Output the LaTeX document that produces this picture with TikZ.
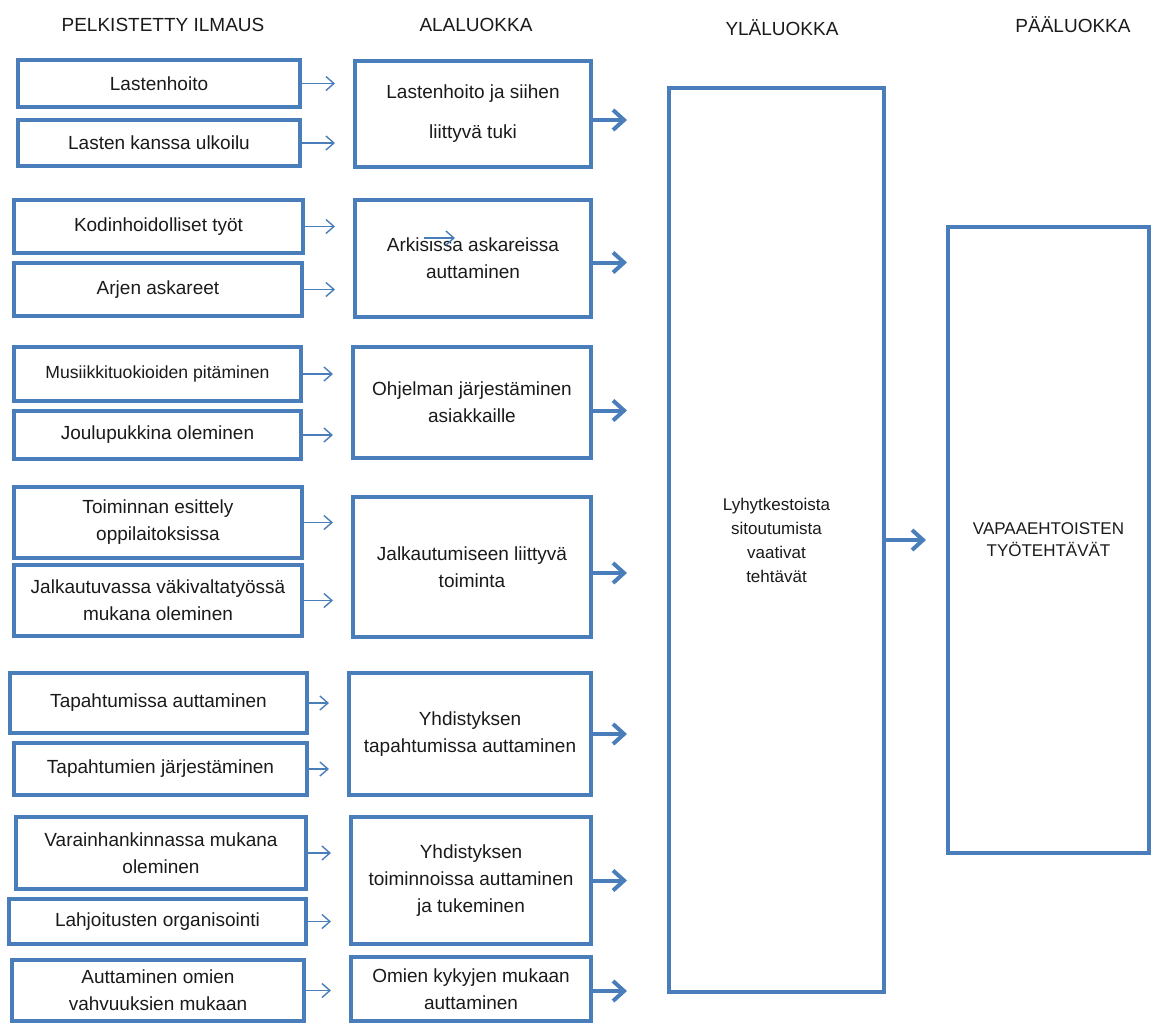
\documentclass[tikz,border=0pt]{standalone}
\usepackage{fontspec}
\setmainfont{Liberation Sans}
\usetikzlibrary{arrows.meta}
\definecolor{edgeblue}{HTML}{4A7EBB}
\definecolor{inkblack}{HTML}{1A1A1A}

\begin{document}
\begin{tikzpicture}[x=0.5pt,y=-0.5pt,
  % a box given by its two opposite corners, in picture units
  span/.style n args={4}{at={({(#1+#3)/2},{(#2+#4)/2})},
    minimum width={(#3-#1)*0.5pt}, minimum height={(#4-#2)*0.5pt}},
  box/.style={draw=edgeblue, line width=2pt, inner sep=0pt, align=center,
    font=\fontsize{9.5}{13.5}\selectfont, text=inkblack},
  bigbox/.style={box, font=\fontsize{8.5}{12}\selectfont},
  colhead/.style={font=\fontsize{9.5}{12}\selectfont, text=inkblack},
  feedarrow/.style={draw=edgeblue, line width=0.7pt,
    -{Straight Barb[length=4pt,width=7pt]}, shorten >=9pt},
  mainarrow/.style={draw=edgeblue, line width=2pt,
    -{Straight Barb[length=5.5pt,width=10pt]}, shorten >=20pt}
]
\useasboundingbox (0,0) rectangle (1152,1024);

% column headings
\node[colhead] (h1) at (163,25) {PELKISTETTY ILMAUS};
\node[colhead] (h2) at (476,25) {ALALUOKKA};
\node[colhead] (h3) at (782,28) {YLÄLUOKKA};
\node[colhead] (h4) at (1073,25) {PÄÄLUOKKA};

% simplified expressions
\node[box, span={18}{60}{300}{107}] (l1) {Lastenhoito};
\node[box, span={18}{120}{300}{166}] (l2) {Lasten kanssa ulkoilu};
\node[box, span={14}{200}{303}{253}] (l3) {Kodinhoidolliset työt};
\node[box, span={14}{263}{302}{316}] (l4) {Arjen askareet};
\node[box, span={14}{347}{301}{401}, font=\fontsize{8.8}{13}\selectfont] (l5) {Musiikkituokioiden pitäminen};
\node[box, span={14}{411}{301}{459}] (l6) {Joulupukkina oleminen};
\node[box, span={14}{487}{302}{558}] (l7) {Toiminnan esittely\\oppilaitoksissa};
\node[box, span={14}{565}{302}{636}] (l8) {Jalkautuvassa väkivaltatyössä\\mukana oleminen};
\node[box, span={10}{673}{307}{733}] (l9) {Tapahtumissa auttaminen};
\node[box, span={14}{743}{307}{795}] (l10) {Tapahtumien järjestäminen};
\node[box, span={16}{817}{306}{889}] (l11) {Varainhankinnassa mukana\\oleminen};
\node[box, span={9}{899}{306}{944}] (l12) {Lahjoitusten organisointi};
\node[box, span={12}{960}{304}{1021}] (l13) {Auttaminen omien\\vahvuuksien mukaan};

% subcategories
\node[box, span={355}{61}{591}{167}, font=\fontsize{9.5}{20}\selectfont] (a1) {Lastenhoito ja siihen\\liittyvä tuki};
\node[box, span={355}{200}{591}{317}] (a2) {Arkisissa askareissa\\auttaminen};
\node[box, span={353}{347}{591}{458}] (a3) {Ohjelman järjestäminen\\asiakkaille};
\node[box, span={353}{497}{591}{637}] (a4) {Jalkautumiseen liittyvä\\toiminta};
\node[box, span={349}{673}{591}{795}] (a5) {Yhdistyksen\\tapahtumissa auttaminen};
\node[box, span={351}{817}{591}{944}] (a6) {Yhdistyksen\\toiminnoissa auttaminen\\ja tukeminen};
\node[box, span={351}{957}{591}{1021}] (a7) {Omien kykyjen mukaan\\auttaminen};

% upper category and main category
\node[bigbox, span={669}{88}{884}{992}] (yl) {Lyhytkestoista\\sitoutumista\\vaativat\\tehtävät};
\node[bigbox, span={948}{227}{1149}{853}, font=\fontsize{8.5}{11}\selectfont] (pl) {VAPAAEHTOISTEN\\TYÖTEHTÄVÄT};

% expressions to subcategories
\foreach \src/\dst in {l1/a1,l2/a1,l3/a2,l4/a2,l5/a3,l6/a3,l7/a4,l8/a4,
                       l9/a5,l10/a5,l11/a6,l12/a6,l13/a7}
  \draw[feedarrow] (\src.east) -- (\src.east -| \dst.west);

% loose arrow lying over the second subcategory
\coordinate (strayA) at (424,238);
\coordinate (strayB) at (455,238);
\draw[feedarrow, shorten >=0pt] (strayA) -- (strayB);

% subcategories to the upper category
\foreach \src/\s in {a1/-3pt,a2/-2pt,a3/-4pt,a4/-3pt,a5/0pt,a6/0pt,a7/-1pt}
  \draw[mainarrow] ([yshift=\s]\src.east) -- ([yshift=\s]\src.east -| yl.west);

% upper category to the main category
\draw[mainarrow, shorten >=10pt] (yl.east) -- (pl.west);
\end{tikzpicture}
\end{document}
